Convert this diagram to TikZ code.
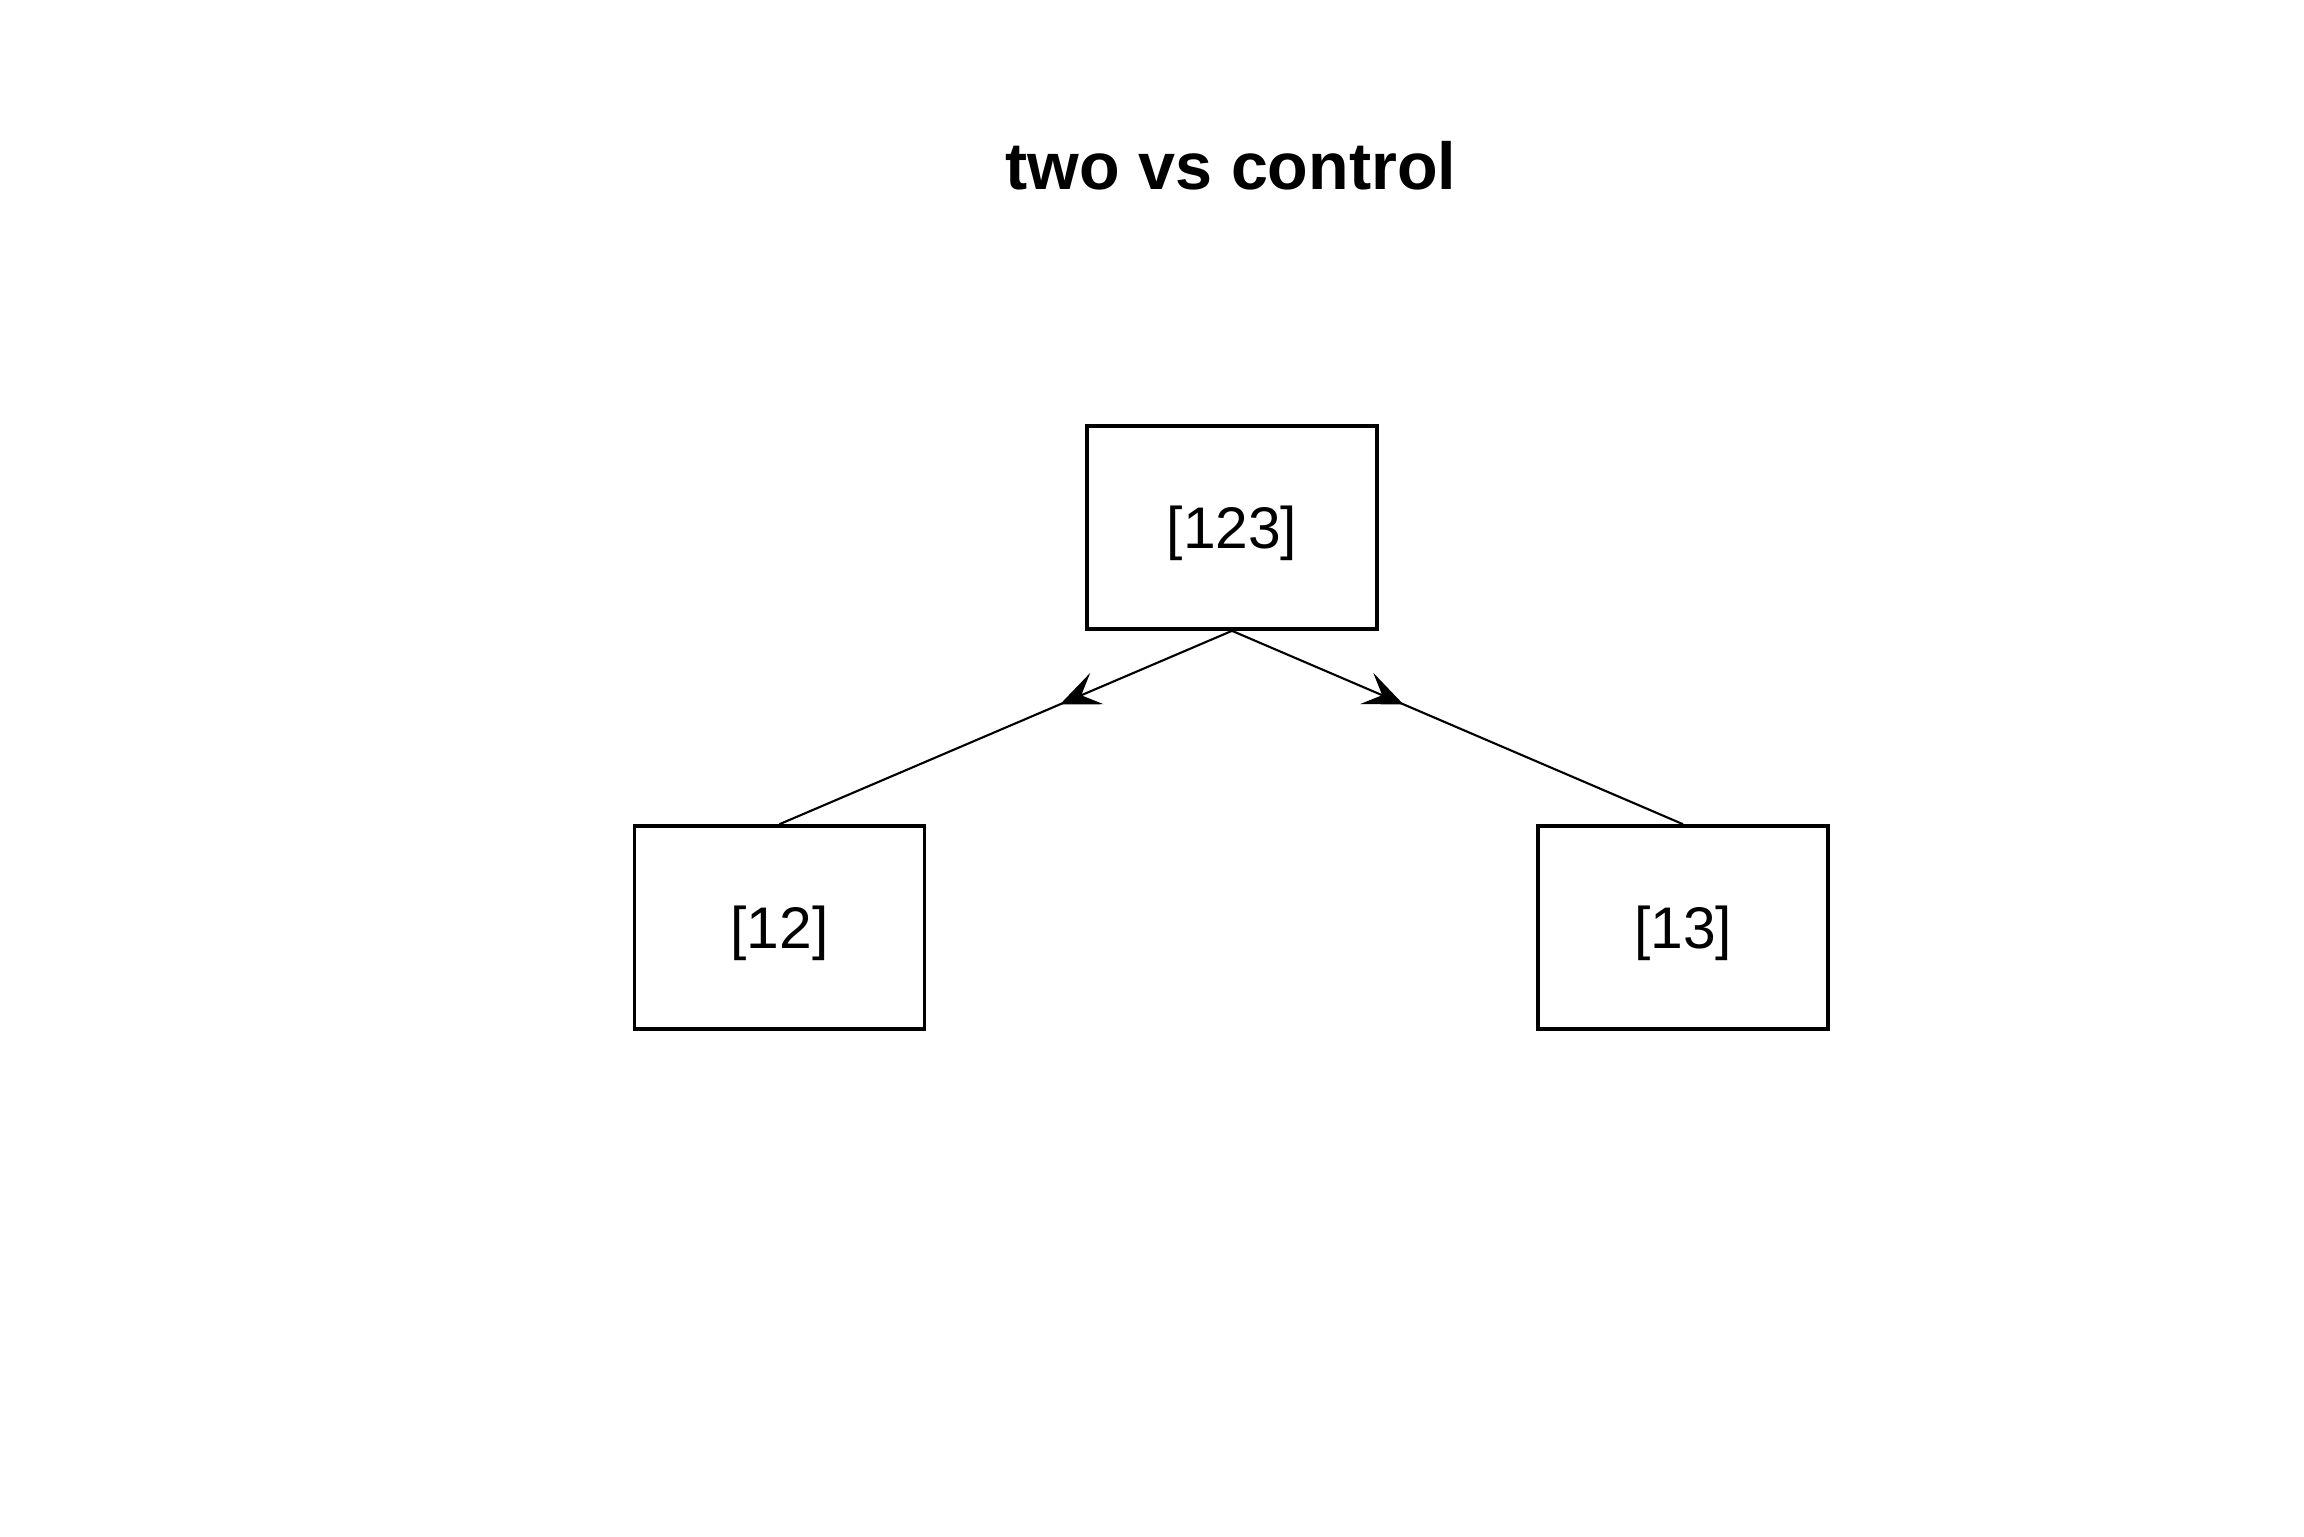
\documentclass[tikz,border=0pt]{standalone}
\usepackage{fontspec}
\setmainfont{Liberation Sans}
\usetikzlibrary{arrows.meta,decorations.markings}
\tikzset{
	setbox/.style={draw, line width=1pt, minimum width=2.9cm, minimum height=2.03cm, inner sep=0pt, text depth=0pt, font=\fontsize{16.7}{20}\selectfont},
	setlink/.style={line width=0.6pt, postaction={decorate}, decoration={markings, mark=at position 0.38 with {\arrow{Stealth[length=0.4cm, width=0.34cm, inset=0.17cm]}}}}
}

\begin{document}
\begin{tikzpicture}[x=0.01cm, y=-0.01cm]
		%%%%% START %%%%%
		
		\useasboundingbox[fill=white] (0, 0) rectangle (2304, 1536);
		
		\node[font=\fontsize{18.9}{22}\selectfont\bfseries, anchor=base] (title) at (1231, 189) {two vs control};
		
		\node[setbox] (s123) at (1232, 527.5) {[123]};
		\node[setbox] (s12) at (779.5, 927.5) {[12]};
		\node[setbox] (s13) at (1683, 927.5) {[13]};
		
		\draw[setlink] (s123.south) -- (s12.north);
		\draw[setlink] (s123.south) -- (s13.north);
		
		%%%%% END %%%%%
	\end{tikzpicture}
\end{document}
